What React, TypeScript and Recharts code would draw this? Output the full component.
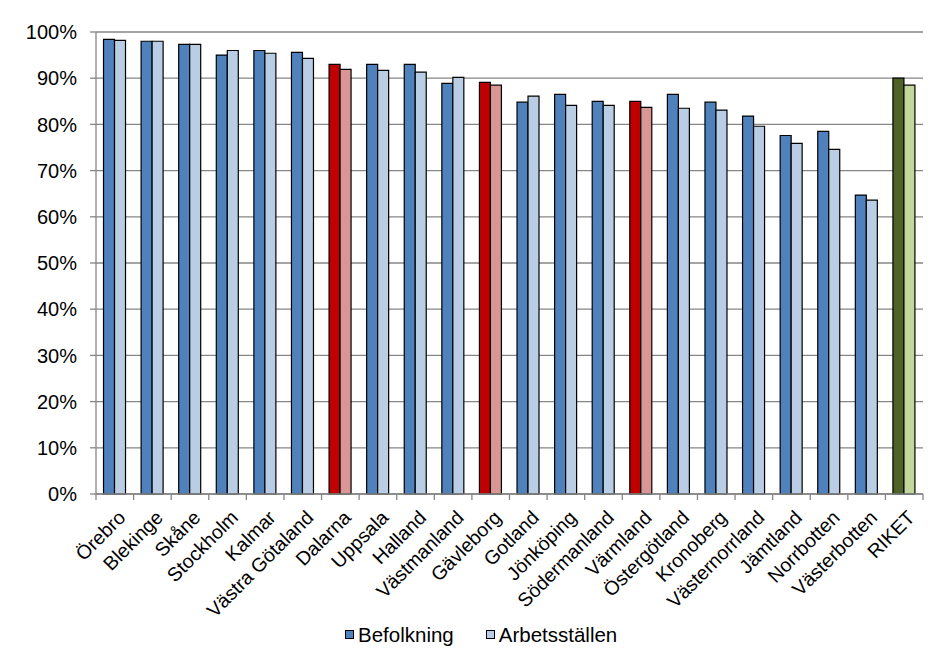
import React from "react";
import { BarChart, Bar, XAxis, YAxis, CartesianGrid, Cell } from "recharts";

const regions = [
  "Örebro", "Blekinge", "Skåne", "Stockholm", "Kalmar", "Västra Götaland",
  "Dalarna", "Uppsala", "Halland", "Västmanland", "Gävleborg", "Gotland",
  "Jönköping", "Södermanland", "Värmland", "Östergötland", "Kronoberg",
  "Västernorrland", "Jämtland", "Norrbotten", "Västerbotten", "RIKET",
];
const befolkning = [
  98.4, 98.0, 97.3, 95.0, 96.0, 95.6, 93.0, 93.0, 93.0, 88.9, 89.1, 84.8,
  86.5, 85.0, 85.0, 86.5, 84.8, 81.8, 77.6, 78.5, 64.7, 90.0,
];
const arbetsstallen = [
  98.2, 98.0, 97.3, 96.0, 95.4, 94.3, 91.9, 91.7, 91.3, 90.2, 88.5, 86.1,
  84.1, 84.1, 83.7, 83.5, 83.1, 79.6, 75.9, 74.6, 63.6, 88.5,
];
const yTicks = [0, 10, 20, 30, 40, 50, 60, 70, 80, 90, 100];
const highlighted = ["Dalarna", "Gävleborg", "Värmland"];
const total = "RIKET";

const data = regions.map((name, i) => ({
  name,
  bef: befolkning[i],
  arb: arbetsstallen[i],
}));

const W = 945;
const H = 649;
const LEFT = 96;
const RIGHT = 22;
const BAND = (W - LEFT - RIGHT) / regions.length;
const FONT = '"Liberation Sans", Arial, sans-serif';
const AXIS = "#868686";

function befColor(name: string) {
  if (name === total) return "#4F6228";
  if (highlighted.includes(name)) return "#C00000";
  return "#4F81BD";
}
function arbColor(name: string) {
  if (name === total) return "#C3D69B";
  if (highlighted.includes(name)) return "#D99694";
  return "#B9CDE5";
}

function RegionTick(props: any) {
  const { x, y, payload, index } = props;
  const last = index === regions.length - 1;
  return (
    <g>
      <line x1={x - BAND / 2} x2={x - BAND / 2} y1={y} y2={y + 6} stroke={AXIS} strokeWidth={1.3} />
      {last && <line x1={x + BAND / 2} x2={x + BAND / 2} y1={y} y2={y + 6} stroke={AXIS} strokeWidth={1.3} />}
      <text
        transform={`translate(${x + 2},${y + 15}) rotate(-45)`}
        textAnchor="end"
        dy="0.71em"
        fontSize={19.5}
        fontFamily={FONT}
        fill="#000"
      >
        {payload.value}
      </text>
    </g>
  );
}

function LegendBox({ color, label, gap }: { color: string; label: string; gap: number }) {
  return (
    <span style={{ display: "inline-flex", alignItems: "center", marginRight: gap }}>
      <span
        style={{
          width: 7,
          height: 7,
          background: color,
          border: "1px solid #000",
          marginRight: 4,
          display: "inline-block",
        }}
      />
      <span>{label}</span>
    </span>
  );
}

export default function App() {
  return (
    <div style={{ position: "absolute", left: 0, top: 0, width: W, height: H, background: "#fff" }}>
      <BarChart
        width={W}
        height={H}
        data={data}
        margin={{ top: 32, right: RIGHT, left: 0, bottom: 0 }}
        barCategoryGap="20%"
        barGap={0}
      >
        <CartesianGrid vertical={false} stroke={AXIS} strokeWidth={1.3} />
        <XAxis
          dataKey="name"
          interval={0}
          height={155}
          axisLine={{ stroke: AXIS, strokeWidth: 1.3 }}
          tickLine={false}
          tickSize={0}
          tickMargin={0}
          tick={<RegionTick />}
        />
        <YAxis
          width={LEFT}
          domain={[0, 100]}
          ticks={yTicks}
          tickFormatter={(v: number) => `${v}%`}
          axisLine={{ stroke: AXIS, strokeWidth: 1.3 }}
          tickLine={{ stroke: AXIS, strokeWidth: 1.3 }}
          tickSize={6}
          tickMargin={13}
          tick={{ fill: "#000", fontSize: 20, fontFamily: FONT }}
        />
        <Bar dataKey="bef" name="Befolkning" stroke="#000" strokeWidth={1.2} isAnimationActive={false}>
          {data.map((d) => (
            <Cell key={`b-${d.name}`} fill={befColor(d.name)} />
          ))}
        </Bar>
        <Bar dataKey="arb" name="Arbetsställen" stroke="#000" strokeWidth={1.2} isAnimationActive={false}>
          {data.map((d) => (
            <Cell key={`a-${d.name}`} fill={arbColor(d.name)} />
          ))}
        </Bar>
      </BarChart>
      <div
        style={{
          position: "absolute",
          left: 345,
          top: 620,
          fontFamily: FONT,
          fontSize: 20.5,
          color: "#000",
          whiteSpace: "nowrap",
        }}
      >
        <LegendBox color="#4F81BD" label="Befolkning" gap={32} />
        <LegendBox color="#B9CDE5" label="Arbetsställen" gap={0} />
      </div>
    </div>
  );
}
